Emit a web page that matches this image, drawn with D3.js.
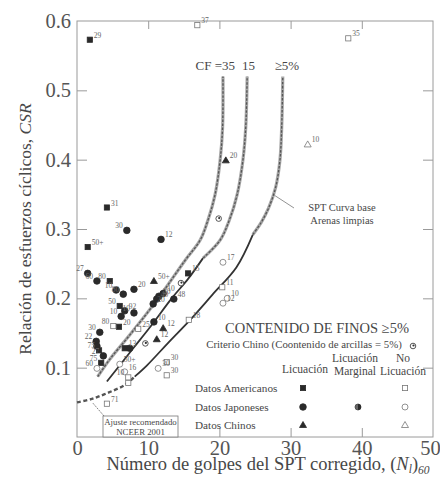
<!DOCTYPE html>
<html><head><meta charset="utf-8">
<script src="https://cdn.jsdelivr.net/npm/d3@7"></script>
<style>
body{margin:0;background:#fff;}
</style></head>
<body><svg id="c" width="440" height="479"></svg>
<script>
// ---------- data ----------
const xTicks = [0,10,20,30,40,50];
const yTicks = [0.1,0.2,0.3,0.4,0.5,0.6];

// curves: [N1_60, CSR]
const curveCF35 = [[2.9,0.087],[4.6,0.112],[7.4,0.147],[11.2,0.197],[15.2,0.255],[17.3,0.284],[18.4,0.313],[19.4,0.35],[20.1,0.399],[20.45,0.447],[20.5,0.52]];
const curveCF15Solid = [[4.2,0.08],[7.9,0.128],[10.3,0.159],[13.3,0.2],[15.6,0.228],[17.7,0.258]];
const curveCF15Dash = [[17.7,0.258],[20.1,0.284],[21.4,0.313],[22.5,0.35],[23.3,0.399],[23.7,0.447],[23.9,0.52]];
const curveCF5Solid = [[8.1,0.087],[9.8,0.103],[13.0,0.138],[15.9,0.169],[19.0,0.205],[22.4,0.245],[24.7,0.292]];
const curveCF5Dash = [[24.7,0.292],[25.9,0.31],[26.9,0.33],[27.9,0.36],[28.5,0.399],[28.75,0.447],[28.9,0.52]];
const curveNCEER = [[0,0.05],[2.1,0.055],[4.4,0.064],[6.7,0.075],[8.1,0.087]];

// points: [N1_60, CSR, label]
const americanLiq = [[1.8,0.573,"29"],[4.2,0.331,"31"],[1.5,0.274,"50+"],[4.6,0.225,"80"],[6.0,0.189,"50"],[5.9,0.159,"20"],[3.4,0.107,"75"],[3.1,0.125,"75"],[15.6,0.236,"15"],[6.7,0.128,"13"]];
const japaneseLiq = [[7.0,0.298,"30"],[11.8,0.285,"12"],[1.5,0.236,"27"],[2.8,0.225,"60"],[8.0,0.213,"20"],[5.5,0.212,"10"],[6.5,0.206,"80"],[6.7,0.182,"92"],[6.2,0.174,"10"],[8.0,0.179,"10"],[3.2,0.151,"30"],[2.7,0.138,"22"],[2.8,0.131,""],[3.7,0.117,"27"],[11.5,0.203,"20"],[11.2,0.199,"40"],[10.7,0.192,"20"],[13.6,0.199,"48"],[10.8,0.166,"10"],[12.1,0.207,"10"],[7.4,0.128,""]];
const chineseLiq = [[10.8,0.225,"50+"],[12.1,0.157,"12"],[11.2,0.141,"12"],[20.9,0.399,"20"]];
const chineseCriterion = [[19.9,0.315,""],[14.6,0.222,""],[9.6,0.135,""]];
const americanNoLiq = [[16.9,0.594,"37"],[38.1,0.575,"35"],[5.1,0.160,"80"],[8.6,0.156,"25"],[15.7,0.169,"18"],[12.6,0.108,"30"],[12.6,0.089,"30"],[7.2,0.086,"10"],[7.2,0.078,""],[4.2,0.048,"71"],[20.4,0.216,"11"]];
const japaneseNoLiq = [[20.5,0.252,"17"],[21.1,0.200,"10"],[20.5,0.193,"12"],[2.8,0.099,"60"],[6.0,0.105,"50+"],[11.4,0.099,"30"],[6.7,0.094,"16"]];
const chineseNoLiq = [[32.4,0.422,"10"]];
const leftLabels = ["35","60","80","22","75","27","30","10","50"];

const curveLabels = [["CF =35",22.2],["15",25.0],["\u22655%",31.2]];
const legendRows = ["Datos Americanos","Datos Japoneses","Datos Chinos"];

// ---------- layout ----------
const FONT = "Liberation Serif";
const svg = d3.select("#c");
const M = {l:77, r:433, t:21, b:437};
const x = d3.scaleLinear().domain([0,50]).range([M.l, M.r]);
const y = d3.scaleLinear().domain([0,0.6]).range([M.b, M.t]);
const frameCol = "#9a9a9a";
const txtCol = "#474747";

function T(sel){ return sel.style("font-family",FONT).attr("fill",txtCol); }

// frame
svg.append("rect").attr("x",M.l).attr("y",M.t).attr("width",M.r-M.l).attr("height",M.b-M.t)
  .attr("fill","none").attr("stroke",frameCol).attr("stroke-width",1);

// axes (ticks inward)
const gx = svg.append("g").attr("transform",`translate(0,${M.b})`)
  .call(d3.axisBottom(x).tickValues(xTicks).tickSizeInner(-9).tickSizeOuter(0).tickPadding(3).tickFormat(d3.format("d")));
const gy = svg.append("g").attr("transform",`translate(${M.l},0)`)
  .call(d3.axisLeft(y).tickValues(yTicks).tickSizeInner(-10).tickSizeOuter(0).tickPadding(6).tickFormat(d3.format(".1f")));
const gx2 = svg.append("g").attr("transform",`translate(0,${M.t})`)
  .call(d3.axisTop(x).tickValues(xTicks.slice(1,5)).tickSizeInner(-8).tickSizeOuter(0).tickFormat(""));
const gy2 = svg.append("g").attr("transform",`translate(${M.r},0)`)
  .call(d3.axisRight(y).tickValues(yTicks.slice(0,5)).tickSizeInner(-10).tickSizeOuter(0).tickFormat(""));
[gx,gy,gx2,gy2].forEach(g=>{
  g.attr("font-family",FONT);
  g.select(".domain").remove();
  g.selectAll("line").attr("stroke",frameCol);
  T(g.selectAll("text")).style("font-size","20.5px").attr("fill","#555");
});
gy.selectAll("line").filter(d=>d===0.6).remove();
gx.selectAll("line").filter(d=>d===0||d===50).remove();
gx.selectAll("text").filter(d=>d===50).attr("dx",-3);

// axis titles
const xt = T(svg.append("text")).attr("x",268).attr("y",470).attr("text-anchor","middle").style("font-size","18.5px");
xt.append("tspan").text("Número de golpes del SPT corregido, (");
xt.append("tspan").attr("font-style","italic").text("N");
xt.append("tspan").attr("font-style","italic").attr("font-size","11.5px").attr("dy",3).text("l");
xt.append("tspan").attr("dy",-3).text(")");
xt.append("tspan").attr("font-style","italic").attr("font-size","11.5px").attr("dy",4).text("60");

const yt = T(svg.append("text")).attr("transform","translate(31,229) rotate(-90)").attr("text-anchor","middle").style("font-size","17.5px");
yt.append("tspan").text("Relación de esfuerzos cíclicos, ");
yt.append("tspan").attr("font-style","italic").text("CSR");

// curves
const line = d3.line().x(d=>x(d[0])).y(d=>y(d[1])).curve(d3.curveCatmullRom.alpha(0.5));
function dashCurve(data){
  svg.append("path").datum(data).attr("d",line).attr("fill","none").attr("stroke","#a8a8a8").attr("stroke-width",3.2);
  svg.append("path").datum(data).attr("d",line).attr("fill","none").attr("stroke","#555").attr("stroke-width",1.3).attr("stroke-dasharray","2.5,1.5");
}
function solidCurve(data){
  svg.append("path").datum(data).attr("d",line).attr("fill","none").attr("stroke","#333").attr("stroke-width",1.8);
}
dashCurve(curveCF35);
solidCurve(curveCF15Solid); dashCurve(curveCF15Dash);
solidCurve(curveCF5Solid); dashCurve(curveCF5Dash);
svg.append("path").datum(curveNCEER).attr("d",line).attr("fill","none").attr("stroke","#555").attr("stroke-width",2.4).attr("stroke-dasharray","4,2.5");

// curve labels
T(svg.selectAll(".cl").data(curveLabels).join("text"))
  .attr("x",d=>x(d[1])).attr("y",70).attr("text-anchor","end").style("font-size","13px").text(d=>d[0]);

// markers
const dark = "#2a2a2a";
function sq(g,p,filled){ g.append("rect").attr("x",x(p[0])-2.6).attr("y",y(p[1])-2.6).attr("width",5.2).attr("height",5.2)
  .attr("fill",filled?dark:"#fff").attr("stroke",filled?dark:"#777").attr("stroke-width",0.8); }
function ci(g,p,filled){ g.append("circle").attr("cx",x(p[0])).attr("cy",y(p[1])).attr("r",filled?3.3:3)
  .attr("fill",filled?dark:"#fff").attr("stroke",filled?dark:"#777").attr("stroke-width",0.8); }
function tri(g,p,filled){ const cx=x(p[0]),cy=y(p[1]);
  g.append("path").attr("d",`M${cx},${cy-3.5}L${cx+3.5},${cy+2.5}L${cx-3.5},${cy+2.5}Z`)
  .attr("fill",filled?dark:"#fff").attr("stroke",filled?dark:"#777").attr("stroke-width",0.8); }
function crit(g,p){ const cx=x(p[0]),cy=y(p[1]);
  g.append("circle").attr("cx",cx).attr("cy",cy).attr("r",2.8).attr("fill","#fff").attr("stroke","#444").attr("stroke-width",0.9);
  g.append("circle").attr("cx",cx+0.5).attr("cy",cy-0.5).attr("r",1.1).attr("fill","#333"); }
function half(g,p){ const cx=x(p[0]),cy=y(p[1]);
  g.append("circle").attr("cx",cx).attr("cy",cy).attr("r",3).attr("fill","#666").attr("stroke","#444").attr("stroke-width",0.8);
  g.append("path").attr("d",`M${cx},${cy-3}A3,3 0 0 1 ${cx},${cy+3}Z`).attr("fill",dark); }

const gm = svg.append("g");
americanLiq.forEach(p=>sq(gm,p,true));
japaneseLiq.forEach(p=>ci(gm,p,true));
chineseLiq.forEach(p=>tri(gm,p,true));
chineseCriterion.forEach(p=>crit(gm,p));
americanNoLiq.forEach(p=>sq(gm,p,false));
japaneseNoLiq.forEach(p=>ci(gm,p,false));
chineseNoLiq.forEach(p=>tri(gm,p,false));

// point labels
const allPts = [].concat(americanLiq,japaneseLiq,chineseLiq,americanNoLiq,japaneseNoLiq,chineseNoLiq);
svg.append("g").selectAll("text").data(allPts.filter(d=>d[2])).join("text")
  .style("font-family",FONT)
  .attr("x",d=>{const L=leftLabels.includes(d[2])&&d[0]<9; return x(d[0])+(L?-4:4);})
  .attr("y",d=>y(d[1])-2)
  .attr("text-anchor",d=>leftLabels.includes(d[2])&&d[0]<9?"end":"start")
  .style("font-size","7.5px").attr("fill","#666").text(d=>d[2]);

// annotations
T(svg.append("text")).attr("x",342).attr("y",211).attr("text-anchor","middle").style("font-size","10.5px").text("SPT Curva base");
T(svg.append("text")).attr("x",342).attr("y",224).attr("text-anchor","middle").style("font-size","10.5px").text("Arenas limpias");
svg.append("line").attr("x1",294).attr("y1",208).attr("x2",x(27.6)+1).attr("y2",y(0.35)+1).attr("stroke","#777").attr("stroke-width",0.8);

svg.append("rect").attr("x",103).attr("y",416).attr("width",75).attr("height",21).attr("fill","#fff").attr("stroke","#777").attr("stroke-width",0.8);
T(svg.append("text")).attr("x",140.5).attr("y",425).attr("text-anchor","middle").style("font-size","8.8px").text("Ajuste recomendado");
T(svg.append("text")).attr("x",140.5).attr("y",435).attr("text-anchor","middle").style("font-size","8.8px").text("NCEER 2001");
svg.append("line").attr("x1",104).attr("y1",416).attr("x2",x(2.2)).attr("y2",y(0.055)+4).attr("stroke","#666").attr("stroke-width",0.8).attr("stroke-dasharray","2,1");

// legend
T(svg.append("text")).attr("x",317).attr("y",333).attr("text-anchor","middle").style("font-size","14.5px").text("CONTENIDO DE FINOS \u22655%");
T(svg.append("text")).attr("x",304).attr("y",348).attr("text-anchor","middle").style("font-size","10.8px").text("Criterio Chino (Coontenido de arcillas = 5%)");
const lg = svg.append("g");
crit(lg,[x.invert(413),y.invert(346)]);
T(svg.append("text")).attr("x",305).attr("y",373).attr("text-anchor","middle").style("font-size","11.5px").text("Licuación");
T(svg.append("text")).attr("x",355).attr("y",362).attr("text-anchor","middle").style("font-size","11.5px").text("Licuación");
T(svg.append("text")).attr("x",355).attr("y",375).attr("text-anchor","middle").style("font-size","11.5px").text("Marginal");
T(svg.append("text")).attr("x",403).attr("y",362).attr("text-anchor","middle").style("font-size","11.5px").text("No");
T(svg.append("text")).attr("x",403).attr("y",375).attr("text-anchor","middle").style("font-size","11.5px").text("Licuación");
const rowY = [388,407,425];
T(svg.selectAll(".lr").data(legendRows).join("text")).attr("x",195).attr("y",(d,i)=>rowY[i]+3.5).style("font-size","11.2px").text(d=>d);
const cx1=x.invert(303), cx2=x.invert(358), cx3=x.invert(405);
sq(lg,[cx1,y.invert(388)],true); sq(lg,[cx3,y.invert(388)],false);
ci(lg,[cx1,y.invert(407)],true); half(lg,[cx2,y.invert(407)]); ci(lg,[cx3,y.invert(407)],false);
tri(lg,[cx1,y.invert(425)],true); tri(lg,[cx3,y.invert(425)],false);
</script></body></html>
